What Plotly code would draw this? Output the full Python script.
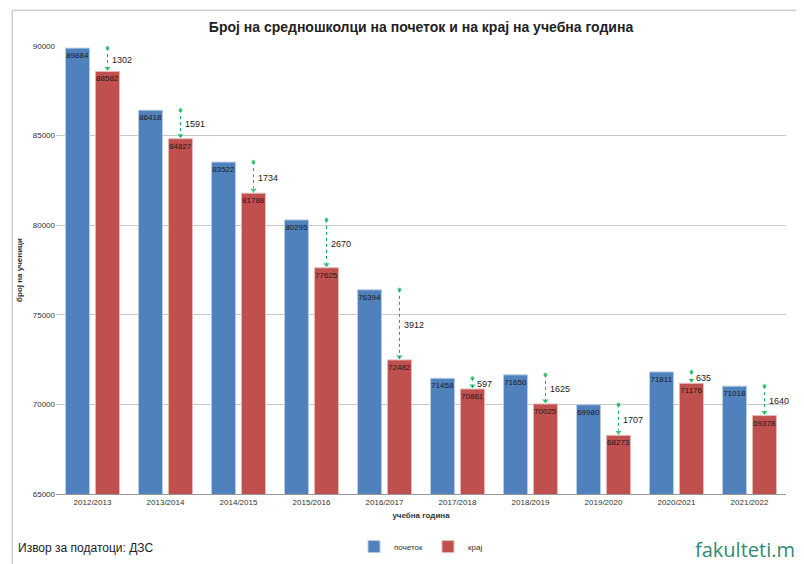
import plotly.graph_objects as go

years = ["2012/2013", "2013/2014", "2014/2015", "2015/2016", "2016/2017",
         "2017/2018", "2018/2019", "2019/2020", "2020/2021", "2021/2022"]
start = [89884, 86418, 83522, 80295, 76394, 71458, 71650, 69980, 71811, 71018]
end = [88582, 84827, 81788, 77625, 72482, 70861, 70025, 68273, 71176, 69378]
diff = [1302, 1591, 1734, 2670, 3912, 597, 1625, 1707, 635, 1640]

xs = list(range(len(years)))
W = 0.33

fig = go.Figure()
fig.add_trace(go.Bar(x=xs, y=start, name="почеток", marker_color="#4F81BD",
                     marker_line=dict(color="#B9CDE5", width=1),
                     width=W, offset=-0.37, text=start, textposition="inside",
                     insidetextanchor="end", textfont=dict(size=8, color="#1a1a1a"),
                     textangle=0, constraintext="none"))
fig.add_trace(go.Bar(x=xs, y=end, name="крај", marker_color="#C0504D",
                     marker_line=dict(color="#E6B9B8", width=1),
                     width=W, offset=0.04, text=end, textposition="inside",
                     insidetextanchor="end", textfont=dict(size=8, color="#1a1a1a"),
                     textangle=0, constraintext="none"))

for i in xs:
    xr = i + 0.04 + W / 2
    fig.add_trace(go.Scatter(x=[xr, xr], y=[start[i], end[i]], mode="lines",
                             line=dict(color="#00B050", width=1, dash="dot"),
                             showlegend=False, hoverinfo="skip"))
    fig.add_trace(go.Scatter(x=[xr, xr], y=[start[i], end[i] + 180], mode="markers",
                             marker=dict(color="#00B050", size=[5, 7],
                                         symbol=["circle", "triangle-down"]),
                             showlegend=False, hoverinfo="skip"))
    fig.add_annotation(x=xr, y=(start[i] + end[i]) / 2, text=str(diff[i]),
                       showarrow=False, xanchor="left", xshift=3,
                       font=dict(size=9, color="#1a1a1a"))

fig.update_layout(
    width=804, height=564,
    paper_bgcolor="white", plot_bgcolor="white",
    font=dict(family="Liberation Sans, Arial", color="#333"),
    title=dict(text="<b>Број на средношколци на почеток и на крај на учебна година</b>",
               x=0.5, xref="paper", y=0.975, font=dict(size=14, color="#222")),
    margin=dict(l=48, r=26, t=38, b=78, autoexpand=False),
    xaxis=dict(tickvals=xs, ticktext=years, range=[-0.5, 9.5],
               tickfont=dict(size=8), showline=True, linecolor="#999",
               title=dict(text="<b>учебна година</b>", font=dict(size=8), standoff=6)),
    yaxis=dict(range=[65000, 90000], dtick=5000, tickfont=dict(size=8),
               tickformat="d", gridcolor="#C8C8C8", showline=False,
               title=dict(text="<b>број на ученици</b>", font=dict(size=8), standoff=8)),
    legend=dict(orientation="h", x=0.5, xanchor="center", y=-0.085, yanchor="top",
                font=dict(size=8)),
    showlegend=True,
)
fig.add_annotation(xref="paper", yref="paper", x=-0.055, y=-0.1, xanchor="left",
                   yanchor="top", text="Извор за податоци: ДЗС", showarrow=False,
                   font=dict(size=12, color="#222"))
fig.add_annotation(xref="paper", yref="paper", x=1.03, y=-0.09, xanchor="right",
                   yanchor="top", text="fakulteti.mk", showarrow=False,
                   font=dict(size=20, color="#2E8B7A", family="Open Sans"))
fig.add_shape(type="rect", xref="paper", yref="paper", x0=-0.06, x1=1.033,
              y0=-0.17, y1=1.08, line=dict(color="#BBB", width=1))
fig.write_html("out.html")
